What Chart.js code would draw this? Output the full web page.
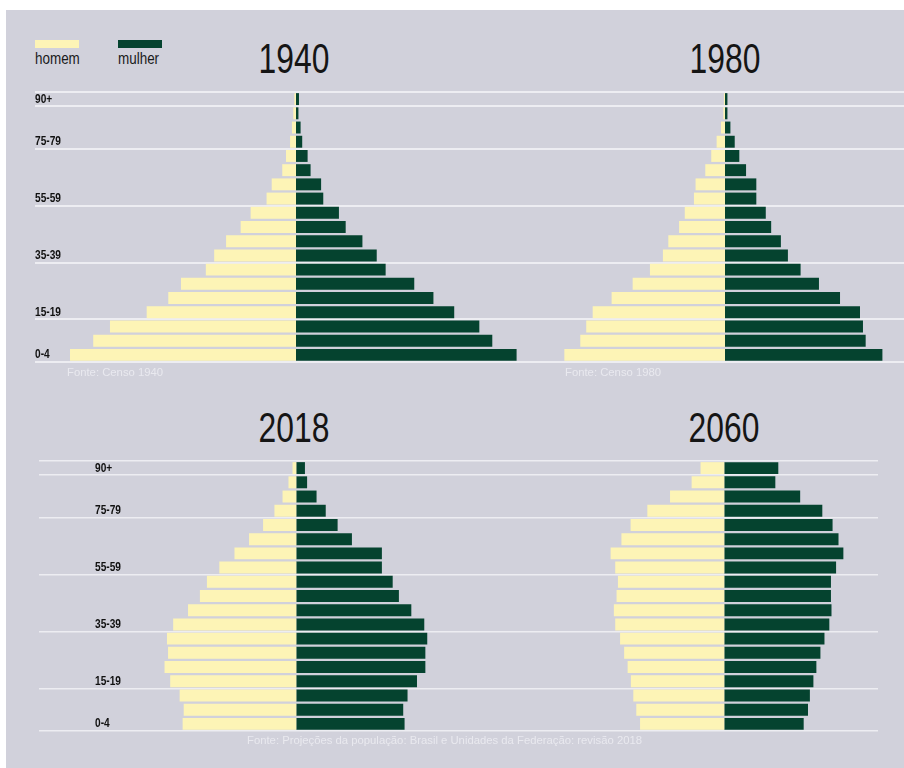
<!DOCTYPE html>
<html>
<head>
<meta charset="utf-8">
<script src="https://cdn.jsdelivr.net/npm/chart.js@4.4.1/dist/chart.umd.min.js"></script>
<style>
  html, body { margin: 0; padding: 0; background: #ffffff; }
  #wrap { position: relative; width: 904px; height: 768px; overflow: hidden; background: #ffffff; }
  #panel { position: absolute; left: 6px; top: 10px; width: 898px; height: 758px; background: #d1d1db; }
  canvas { position: absolute; }
  .title { position: absolute; font-family: 'Liberation Sans', Arial, sans-serif; font-size: 43px; line-height: 43px;
           color: #151515; white-space: nowrap; transform: translateX(-50%) scaleX(0.74); transform-origin: 50% 50%; }
  .swatch { position: absolute; width: 44px; height: 8px; }
  .legtxt { position: absolute; font-family: 'Liberation Sans', Arial, sans-serif; font-size: 16px; line-height: 16px;
            color: #1a1a1a; white-space: nowrap; transform: scaleX(0.84); transform-origin: 0 50%; }
  .src { position: absolute; font-family: 'Liberation Sans', Arial, sans-serif; font-size: 11.3px; line-height: 12px;
         color: #e9e9ef; white-space: nowrap; }
</style>
</head>
<body>
<div id="wrap">
  <div id="panel"></div>

  <div class="swatch" style="left:35px; top:40px; background:#fdf4b6;"></div>
  <div class="legtxt" style="left:35px; top:51px;">homem</div>
  <div class="swatch" style="left:118px; top:40px; background:#05432f;"></div>
  <div class="legtxt" style="left:118px; top:51px;">mulher</div>

  <div class="title" style="left:294px; top:37px;">1940</div>
  <div class="title" style="left:725px; top:37px;">1980</div>
  <div class="title" style="left:294px; top:406px;">2018</div>
  <div class="title" style="left:724px; top:406px;">2060</div>

  <canvas id="c1940" width="540" height="290" style="left:0px; top:82px;"></canvas>
  <canvas id="c1980" width="364" height="290" style="left:540px; top:82px;"></canvas>
  <canvas id="c2018" width="510" height="290" style="left:0px; top:451px;"></canvas>
  <canvas id="c2060" width="368" height="290" style="left:510px; top:451px;"></canvas>

  <div class="src" style="left:67px; top:366px;">Fonte: Censo 1940</div>
  <div class="src" style="left:565px; top:366px;">Fonte: Censo 1980</div>
  <div class="src" style="left:247px; top:734px;">Fonte: Projeções da população: Brasil e Unidades da Federação: revisão 2018</div>
</div>

<script>
// ---- Data (top row = oldest group, bottom row = youngest) ----
const ageGroups = ['90+', '85-89', '80-84', '75-79', '70-74', '65-69', '60-64', '55-59', '50-54',
                   '45-49', '40-44', '35-39', '30-34', '25-29', '20-24', '15-19', '10-14', '5-9', '0-4'];
const shownLabels = ['90+', '75-79', '55-59', '35-39', '15-19', '0-4'];

const men1940   = [0.06, 0.10, 0.15, 0.22, 0.37, 0.51, 0.90, 1.09, 1.68, 2.05, 2.59, 3.03, 3.34, 4.26, 4.73, 5.53, 6.89, 7.51, 8.37];
const women1940 = [0.11, 0.09, 0.17, 0.23, 0.43, 0.54, 0.93, 1.01, 1.59, 1.84, 2.46, 2.99, 3.32, 4.38, 5.09, 5.86, 6.79, 7.27, 8.17];

const men1980   = [0.04, 0.06, 0.15, 0.31, 0.51, 0.73, 1.09, 1.15, 1.49, 1.70, 2.10, 2.30, 2.78, 3.42, 4.20, 4.90, 5.14, 5.36, 5.95];
const women1980 = [0.09, 0.09, 0.20, 0.36, 0.53, 0.78, 1.16, 1.16, 1.51, 1.71, 2.07, 2.33, 2.80, 3.48, 4.26, 5.00, 5.11, 5.21, 5.83];

const men2018   = [0.14, 0.29, 0.51, 0.81, 1.23, 1.75, 2.29, 2.85, 3.31, 3.57, 4.01, 4.56, 4.79, 4.75, 4.88, 4.67, 4.32, 4.17, 4.21];
const women2018 = [0.32, 0.40, 0.75, 1.09, 1.53, 2.06, 3.17, 3.17, 3.57, 3.80, 4.26, 4.74, 4.85, 4.78, 4.78, 4.47, 4.12, 3.96, 4.01];

const men2060   = [0.88, 1.21, 2.01, 2.85, 3.47, 3.81, 4.21, 4.04, 3.94, 3.99, 4.09, 4.04, 3.86, 3.71, 3.58, 3.46, 3.37, 3.26, 3.12];
const women2060 = [2.00, 1.89, 2.81, 3.63, 4.01, 4.23, 4.41, 4.14, 3.95, 3.95, 3.97, 3.89, 3.71, 3.56, 3.41, 3.30, 3.17, 3.10, 2.94];

// ---- Styling ----
const COLOR_MEN = '#fdf4b6';
const COLOR_WOMEN = '#05432f';
const GRID_COLOR = '#ededf2';

// grid line i sits at the top edge of category i; the extra last line has no index
const gridLines = new Set([0].concat(shownLabels.map(l => ageGroups.indexOf(l) + 1)));

// Narrow the y tick labels horizontally (condensed look) around their anchor
const condenseTicks = {
  id: 'condenseTicks',
  beforeDraw(chart) {
    const s = chart.scales.y;
    if (!s || s._condensed) return;
    const orig = s.drawLabels.bind(s);
    s.drawLabels = function (area) {
      const ctx = this.ctx;
      const x0 = this.right + this.options.ticks.padding;
      ctx.save();
      ctx.translate(x0, 0);
      ctx.scale(0.78, 1);
      ctx.translate(-x0, 0);
      orig(area);
      ctx.restore();
    };
    s._condensed = true;
  }
};

function pyramid(id, men, women, cfg) {
  return new Chart(document.getElementById(id), {
    type: 'bar',
    data: {
      labels: ageGroups,
      datasets: [
        { label: 'homem', data: men.map(v => -v), backgroundColor: COLOR_MEN,
          barPercentage: 0.84, categoryPercentage: 1, borderWidth: 0 },
        { label: 'mulher', data: women, backgroundColor: COLOR_WOMEN,
          barPercentage: 0.84, categoryPercentage: 1, borderWidth: 0 }
      ]
    },
    plugins: [condenseTicks],
    options: {
      indexAxis: 'y',
      responsive: false,
      animation: false,
      events: [],
      layout: { padding: { left: cfg.padLeft, right: 0, top: 10, bottom: 10 } },
      plugins: { legend: { display: false }, tooltip: { enabled: false } },
      scales: {
        x: { display: false, stacked: true, min: cfg.min, max: cfg.max },
        y: {
          stacked: true,
          position: 'left',
          border: { display: false },
          grid: {
            offset: true,
            drawTicks: false,
            lineWidth: cfg.gridWidth,
            color: (c) => {
              const i = (c.index === undefined) ? ageGroups.length : c.index;
              return gridLines.has(i) ? GRID_COLOR : 'rgba(0,0,0,0)';
            }
          },
          ticks: {
            display: cfg.showTicks,
            mirror: true,
            padding: cfg.tickPad,
            autoSkip: false,
            color: '#111111',
            font: { family: "'Liberation Sans', Arial, sans-serif", size: 13, weight: 'bold' },
            callback: function (v, i) {
              const l = ageGroups[i];
              return shownLabels.includes(l) ? l : '';
            }
          },
          afterFit: (s) => { s.width = 0; s.paddingTop = 0; s.paddingBottom = 0; }
        }
      }
    }
  });
}

const PX = 27; // pixels per unit on every pyramid
pyramid('c1940', men1940, women1940, { padLeft: 35, min: -(296 - 35) / PX, max: (540 - 296) / PX, showTicks: true, tickPad: 0, gridWidth: 2 });
pyramid('c1980', men1980, women1980, { padLeft: 0, min: -(725 - 540) / PX, max: (904 - 725) / PX, showTicks: false, tickPad: 0, gridWidth: 2 });
pyramid('c2018', men2018, women2018, { padLeft: 39, min: -(296.3 - 39) / PX, max: (510 - 296.3) / PX, showTicks: true, tickPad: 56, gridWidth: 1.5 });
pyramid('c2060', men2060, women2060, { padLeft: 0, min: -(724.3 - 510) / PX, max: (878 - 724.3) / PX, showTicks: false, tickPad: 0, gridWidth: 1.5 });
</script>
</body>
</html>
